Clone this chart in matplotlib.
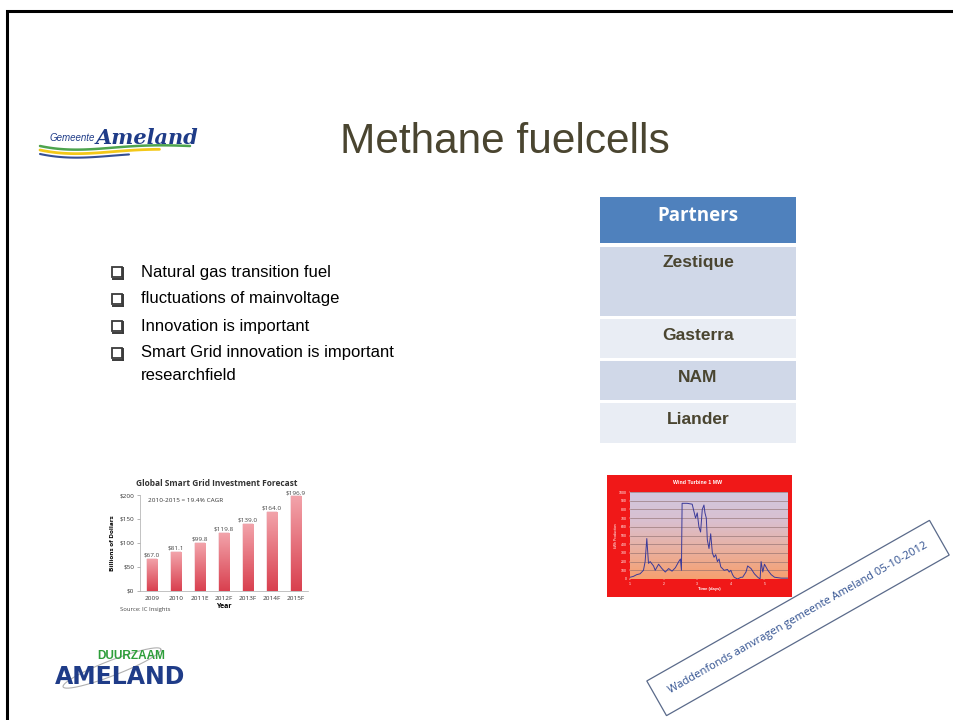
import numpy as np
import matplotlib.pyplot as plt
from matplotlib.patches import Rectangle
from matplotlib.colors import LinearSegmentedColormap

# --- data -------------------------------------------------------------
years = ["2009", "2010", "2011E", "2012F", "2013F", "2014F", "2015F"]
investment = [67.0, 81.1, 99.8, 119.8, 139.0, 164.0, 196.9]
bar_labels = ["$67.0", "$81.1", "$99.8", "$119.8", "$139.0", "$164.0", "$196.9"]
usd_ticks = [0, 50, 100, 150, 200]
usd_labels = ["$0", "$50", "$100", "$150", "$200"]

bullets = ["Natural gas transition fuel",
           "fluctuations of mainvoltage",
           "Innovation is important",
           "Smart Grid innovation is important"]
bullet_cont = "researchfield"
partners = ["Zestique", "Gasterra", "NAM", "Liander"]

# wind turbine output, time in days, kWh
wind_t = [1.00, 1.10, 1.20, 1.30, 1.40, 1.45, 1.50, 1.55, 1.60, 1.70, 1.75,
          1.85, 1.95, 2.05, 2.15, 2.25, 2.35, 2.45, 2.50, 2.53, 2.55, 2.70,
          2.85, 2.95, 3.00, 3.05, 3.10, 3.15, 3.20, 3.23, 3.27, 3.30, 3.35,
          3.40, 3.45, 3.50, 3.55, 3.60, 3.65, 3.70, 3.80, 3.90, 3.95, 4.00,
          4.05, 4.10, 4.20, 4.30, 4.35, 4.45, 4.50, 4.60, 4.70, 4.80, 4.87,
          4.90, 4.95, 5.00, 5.10, 5.20, 5.30, 5.50, 5.70]
wind_kwh = [20, 30, 50, 60, 100, 200, 465, 180, 200, 150, 100,
            170, 120, 80, 120, 90, 130, 200, 230, 100, 870, 870,
            860, 700, 760, 600, 540, 800, 850, 760, 700, 450, 350,
            520, 300, 250, 280, 200, 230, 140, 100, 110, 80, 100,
            50, 20, 0, 20, 20, 80, 150, 120, 60, 20, 0,
            200, 80, 170, 100, 50, 20, 10, 10]
wind_yticks = list(range(0, 1001, 100))
wind_xticks = [1, 2, 3, 4, 5]

olive = "#4a4530"
blue_logo = "#1f3c88"

plt.rcParams["font.family"] = ["Liberation Sans", "DejaVu Sans"]

fig = plt.figure(figsize=(9.54, 7.2), dpi=100)
slide = fig.add_axes([0, 0, 1, 1])
slide.set_xlim(0, 954)
slide.set_ylim(720, 0)
slide.axis("off")

# slide frame
slide.plot([7.5, 7.5, 954], [720, 10.5, 10.5], color="black", lw=2.2,
           solid_joinstyle="miter")

# title
slide.text(505, 142, "Methane fuelcells", fontsize=30.5, color=olive,
           ha="center", va="center")

# Gemeente Ameland logo
s = np.linspace(0, 1, 60)
for dy, c, lw in [(0, "#3a9a3a", 1.8), (4, "#f2c200", 2.0), (8, "#1f3c88", 1.5)]:
    n = int(60 - dy * 3)
    xs = 40 + 150 * s
    ys = 146 + dy + 12 * (1 - s) ** 2 * np.sin(np.pi * s) - 6 * s * (1 - s)
    slide.plot(xs[:n], ys[:n], color=c, lw=lw, solid_capstyle="round", alpha=0.9)
slide.text(50, 141, "Gemeente", fontsize=7, style="italic", color=blue_logo,
           ha="left", va="baseline")
slide.text(96, 144, "Ameland", fontsize=15, style="italic", weight="bold",
           color=blue_logo, ha="left", va="baseline", family="DejaVu Serif")

# bullets
by = [272, 299, 326, 353]
for y, txt in zip(by, bullets):
    slide.add_patch(Rectangle((112, y - 5), 10, 10, fill=False,
                              edgecolor="#3a3a3a", lw=1.3))
    slide.plot([123.5, 123.5], [y - 4, y + 6.5], color="#3a3a3a", lw=1.4)
    slide.plot([113, 123.5], [y + 6.5, y + 6.5], color="#3a3a3a", lw=1.4)
    slide.text(141, y, txt, fontsize=12, color="black", ha="left", va="center")
slide.text(141, 376, bullet_cont, fontsize=12, color="black", ha="left",
           va="center")

# partners table
rows = [(197, 243, "#4f81bd"), (247, 316, "#d0d8e8"), (319, 358, "#e9edf4"),
        (361, 400, "#d0d8e8"), (403, 443, "#e9edf4")]
for y0, y1, c in rows:
    slide.add_patch(Rectangle((600, y0), 196, y1 - y0, color=c, lw=0))
slide.text(698, 216, "Partners", fontsize=13.5, weight="bold", color="white",
           ha="center", va="center", family="Open Sans")
for y, name in zip([263, 335, 378, 420], partners):
    slide.text(698, y, name, fontsize=12.5, weight="bold", color=olive,
               ha="center", va="center")

# Duurzaam Ameland logo
th = np.linspace(0, 2 * np.pi, 200)
slide.plot(112 + 52 * np.cos(th) * np.cos(0.35) - 10 * np.sin(th) * np.sin(0.35),
           668 + 52 * np.cos(th) * np.sin(-0.35) + 10 * np.sin(th) * np.cos(0.35),
           color="#b0b0b0", lw=0.8)
slide.text(131, 656, "DUURZAAM", fontsize=8.5, weight="bold", color="#2e9e3a",
           ha="center", va="center")
slide.text(120, 677, "AMELAND", fontsize=17, weight="heavy", color=blue_logo,
           ha="center", va="center", family="DejaVu Sans")

# stamp
slide.text(798, 618, "Waddenfonds aanvragen gemeente Ameland 05-10-2012",
           fontsize=8, color="#2f4f8f", rotation=29.6, ha="center",
           va="center", rotation_mode="anchor", family="Open Sans",
           bbox=dict(boxstyle="square,pad=1.3", fc="white", ec="#5a6a8a", lw=0.9))

# ---------------- bar chart ----------------
slide.text(217, 484, "Global Smart Grid Investment Forecast", fontsize=6,
           weight="bold", color="#333333", ha="center", va="center",
           family="Open Sans")
ax = fig.add_axes([140 / 954, 1 - 590.7 / 720, 168 / 954, 95.7 / 720])
ax.set_xlim(-0.5, 6.5)
ax.set_ylim(0, 200)
bar_cmap = LinearSegmentedColormap.from_list("bar", ["#d9404f", "#f2a3aa"])
grad = np.linspace(0, 1, 100).reshape(-1, 1)
bars = ax.bar(range(len(years)), investment, width=0.42, color="none",
              edgecolor="#d06070", lw=0.3)
for b in bars:
    x0, w, h = b.get_x(), b.get_width(), b.get_height()
    im = ax.imshow(grad, cmap=bar_cmap, origin="lower", aspect="auto",
                   extent=(x0, x0 + w, 0, h), zorder=1)
    im.set_clip_path(b)
for i, (v, lab) in enumerate(zip(investment, bar_labels)):
    ax.text(i, v + 3, lab, fontsize=4.6, color="#444444", ha="center",
            va="bottom", family="Open Sans")
ax.text(0.05, 0.97, "2010-2015 = 19.4% CAGR", transform=ax.transAxes,
        fontsize=4.6, color="#333333", ha="left", va="top", family="Open Sans")
ax.set_xticks(range(len(years)))
ax.set_xticklabels(years, fontsize=4.6, family="Open Sans", color="#333333")
ax.set_yticks(usd_ticks)
ax.set_yticklabels(usd_labels, fontsize=4.6, family="Open Sans", color="#333333")
ax.tick_params(axis="x", length=0, pad=4)
ax.tick_params(axis="y", length=2, width=0.5, color="#999999", pad=2)
for sp in ["top", "right"]:
    ax.spines[sp].set_visible(False)
for sp in ["left", "bottom"]:
    ax.spines[sp].set_color("#aaaaaa")
    ax.spines[sp].set_linewidth(0.5)
ax.set_xlabel("Year", fontsize=5, weight="bold", labelpad=1, family="Open Sans")
ax.set_ylabel("Billions of Dollars", fontsize=4.6, weight="bold", labelpad=3,
              family="Open Sans")
slide.text(120, 609, "Source: IC Insights", fontsize=4.2, color="#444444",
           ha="left", va="center", family="Open Sans")

# ---------------- wind turbine chart ----------------
slide.add_patch(Rectangle((607, 475), 185, 122, color="#f01818", lw=0))
slide.text(698, 482, "Wind Turbine 1 MW", fontsize=3.8, weight="bold",
           color="white", ha="center", va="center")
wx = fig.add_axes([630 / 954, 1 - 579 / 720, 158 / 954, 87 / 720])
wx.set_xlim(1, 5.7)
wx.set_ylim(0, 1000)
sky = LinearSegmentedColormap.from_list("sky", ["#f6a070", "#e9b0a0", "#d9c0d0", "#d0c8e0"])
wx.imshow(np.linspace(0, 1, 100).reshape(-1, 1), cmap=sky, origin="lower",
          aspect="auto", extent=(1, 5.7, 0, 1000), zorder=0)
wx.set_yticks(wind_yticks)
wx.set_xticks(wind_xticks)
wx.grid(axis="y", color="#8a6a6a", lw=0.4)
wx.plot(wind_t, wind_kwh, color="#3a3a9a", lw=0.7, zorder=3)
wx.tick_params(labelsize=2.5, colors="white", length=1, width=0.3, pad=1)
for sp in wx.spines.values():
    sp.set_visible(False)
wx.set_xlabel("Time (days)", fontsize=3, color="white", labelpad=1, weight="bold")
wx.set_ylabel("kWh Production", fontsize=2.5, color="white", labelpad=1)

fig.savefig("out.png", dpi=100)
